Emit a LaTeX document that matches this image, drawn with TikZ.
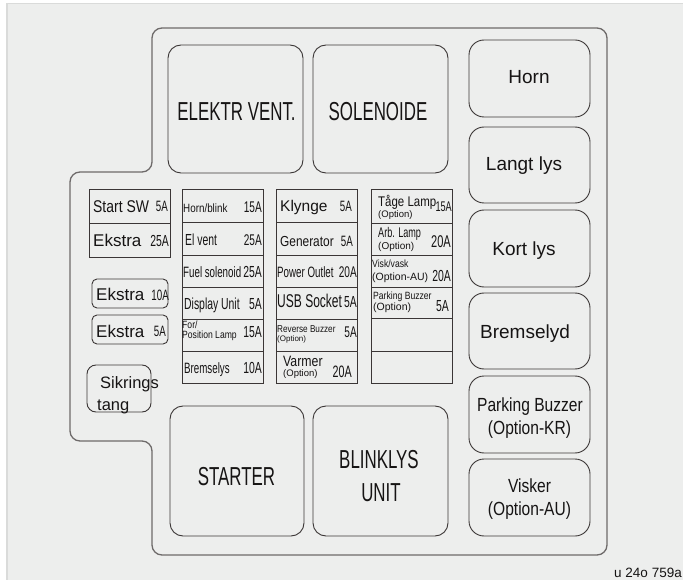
\documentclass[tikz,border=0pt]{standalone}
\usepackage{fontspec}
\setmainfont{Liberation Sans}
\newfontfamily\nf[FakeStretch=0.65]{Liberation Sans}
\newfontfamily\nfm[FakeStretch=0.82]{Liberation Sans}
\newcommand\fs[1]{\fontsize{#1}{#1}\selectfont}
\definecolor{bg}{HTML}{EDEEED}
\definecolor{bgedge}{HTML}{DADBDA}
\definecolor{ln}{HTML}{3B3636}
\definecolor{ol}{HTML}{6E6A6A}
\definecolor{tx}{HTML}{161414}
\begin{document}
\begin{tikzpicture}[x=1pt,y=-1pt,
  box/.style={draw=ln,line width=0.9pt},
  outl/.style={draw=ol,line width=1.3pt,rounded corners=10pt},
  lab/.style={inner sep=0pt,anchor=base west,text=tx},
  amp/.style={inner sep=0pt,anchor=base east,text=tx},
  ctr/.style={inner sep=0pt,anchor=base,text=tx}]
\useasboundingbox (0,0) rectangle (683,580);
\fill[bg] (6,3) rectangle (683,580);
\draw[bgedge,line width=1.5pt] (6.75,580) -- (6.75,3.75) -- (683,3.75);
% outline
\draw[outl] (152,172) -- (152,28) -- (607,28) -- (607,555) -- (152,555) -- (152,441) -- (70,441) -- (70,172) -- cycle;
% big boxes
\draw[box,rounded corners=13pt] (168,45) rectangle (303,173);
\draw[box,rounded corners=13pt] (313,45) rectangle (448,173);
\draw[box,rounded corners=13pt] (170,406) rectangle (304,536);
\draw[box,rounded corners=13pt] (313,406) rectangle (448,536);
% right boxes
\foreach \t/\b in {40/117,127/203,210/287,293/369,376/453,459/536}
  \draw[box,rounded corners=15pt] (469,\t) rectangle (590,\b);
% left
\draw[box] (89,189) rectangle (170,257);
\draw[box] (89,223) -- (170,223);
\draw[box,rounded corners=5pt] (92,279) rectangle (168,308);
\draw[box,rounded corners=5pt] (92,315) rectangle (168,344);
\draw[box,rounded corners=9pt] (87,365) rectangle (151,412);
% fuse columns
\draw[box] (182,189) rectangle (263,383);
\foreach \y in {222,255,287,319,351} \draw[box] (182,\y) -- (263,\y);
\draw[box] (276,189) rectangle (357,383);
\foreach \y in {222,255,287,319,351} \draw[box] (276,\y) -- (357,\y);
\draw[box] (371,189) rectangle (452,383);
\foreach \y in {223,255,287,318,351} \draw[box] (371,\y) -- (452,\y);
% big labels
\node[ctr] (ev) at (236.5,120.5) {\nf\fs{26}ELEKTR VENT.};
\node[ctr] (so) at (378,120.5) {\nf\fs{26}SOLENOIDE};
\node[ctr] (st) at (236.5,485) {\nf\fs{26}STARTER};
\node[ctr] (bl) at (379,468) {\nf\fs{26}BLINKLYS};
\node[ctr] (un) at (381,501) {\nf\fs{26}UNIT};
% right labels
\node[ctr] (ho) at (529,84) {\fs{19}Horn};
\node[ctr] (la) at (524,171) {\fs{19}Langt lys};
\node[ctr] (ko) at (524,256) {\fs{19}Kort lys};
\node[ctr] (br) at (525,338) {\fs{19}Bremselyd};
\node[ctr] (pb) at (530,411) {\nfm\fs{19}Parking Buzzer};
\node[ctr] (pbo) at (529.5,434) {\nfm\fs{19}(Option-KR)};
\node[ctr] (vi) at (529.5,492) {\nfm\fs{19}Visker};
\node[ctr] (vio) at (529.5,515) {\nfm\fs{19}(Option-AU)};
% left labels
\node[lab] (s1) at (93,213) {\nfm\fs{17}Start SW};
\node[amp] (s1a) at (168,212) {\nf\fs{15}5A};
\node[lab] (s2) at (93,247) {\fs{17}Ekstra};
\node[amp] (s2a) at (169,247) {\nf\fs{16}25A};
\node[lab] (s3) at (96,300) {\fs{17}Ekstra};
\node[amp] (s3a) at (169,300) {\nf\fs{15}10A};
\node[lab] (s4) at (96,337) {\fs{17}Ekstra};
\node[amp] (s4a) at (166,336) {\nf\fs{15}5A};
\node[lab] (sk1) at (100,388) {\fs{16.5}Sikrings};
\node[lab] (sk2) at (97,410) {\fs{16.5}tang};
% column 2
\node[lab] (a1) at (183,213) {\nfm\fs{12}Horn/blink};
\node[amp] (a1a) at (262,213) {\nf\fs{15.5}15A};
\node[lab] (a2) at (185,246) {\nf\fs{16}El vent};
\node[amp] (a2a) at (262,246) {\nf\fs{15.5}25A};
\node[lab] (a3) at (183,277) {\nf\fs{15}Fuel solenoid};
\node[amp] (a3a) at (262,277) {\nf\fs{16}25A};
\node[lab] (a4) at (184,309) {\nf\fs{16}Display Unit};
\node[amp] (a4a) at (262,309) {\nf\fs{16}5A};
\node[lab] (a5) at (182,328) {\nfm\fs{10.5}For/};
\node[lab] (a5b) at (182,338.5) {\nfm\fs{10.5}Position Lamp};
\node[amp] (a5a) at (262,337.5) {\nf\fs{16}15A};
\node[lab] (a6) at (184,373) {\nf\fs{15}Bremselys};
\node[amp] (a6a) at (262,373.5) {\nf\fs{16}10A};
% column 3
\node[lab] (b1) at (280,211.5) {\fs{15.5}Klynge};
\node[amp] (b1a) at (352,212) {\nf\fs{15}5A};
\node[lab] (b2) at (280,247) {\nfm\fs{14.5}Generator};
\node[amp] (b2a) at (353,247) {\nf\fs{15}5A};
\node[lab] (b3) at (277,277) {\nf\fs{15}Power Outlet};
\node[amp] (b3a) at (357,277) {\nf\fs{15.5}20A};
\node[lab] (b4) at (277,308) {\nf\fs{18.5}USB Socket};
\node[amp] (b4a) at (357,308) {\nf\fs{16}5A};
\node[lab] (b5) at (277,332) {\nfm\fs{10}Reverse Buzzer};
\node[lab] (b5o) at (277,341.5) {\fs{8}(Option)};
\node[amp] (b5a) at (357,337) {\nf\fs{15.5}5A};
\node[lab] (b6) at (283,366) {\nfm\fs{15}Varmer};
\node[lab] (b6o) at (283,376) {\fs{9.5}(Option)};
\node[amp] (b6a) at (352,377) {\nf\fs{16.5}20A};
% column 4
\node[lab] (c1) at (378,206.5) {\nfm\fs{14}Tåge Lamp};
\node[lab] (c1o) at (378,218) {\fs{9.5}(Option)};
\node[amp] (c1a) at (452,212) {\nf\fs{14}15A};
\node[lab] (c2) at (378,238) {\nf\fs{14}Arb. Lamp};
\node[lab] (c2o) at (378,250) {\fs{10}(Option)};
\node[amp] (c2a) at (451,248) {\nf\fs{17}20A};
\node[lab] (c3) at (372,268) {\nfm\fs{10.5}Visk/vask};
\node[lab] (c3o) at (372,280) {\fs{10.5}(Option-AU)};
\node[amp] (c3a) at (451,282) {\nf\fs{16}20A};
\node[lab] (c4) at (373,299) {\nfm\fs{10.5}Parking Buzzer};
\node[lab] (c4o) at (373,310) {\fs{10.5}(Option)};
\node[amp] (c4a) at (449,312) {\nf\fs{16}5A};
% code
\node[amp] (code) at (682,577) {\fs{13.5}u 24o 759a};
\end{tikzpicture}
\end{document}
